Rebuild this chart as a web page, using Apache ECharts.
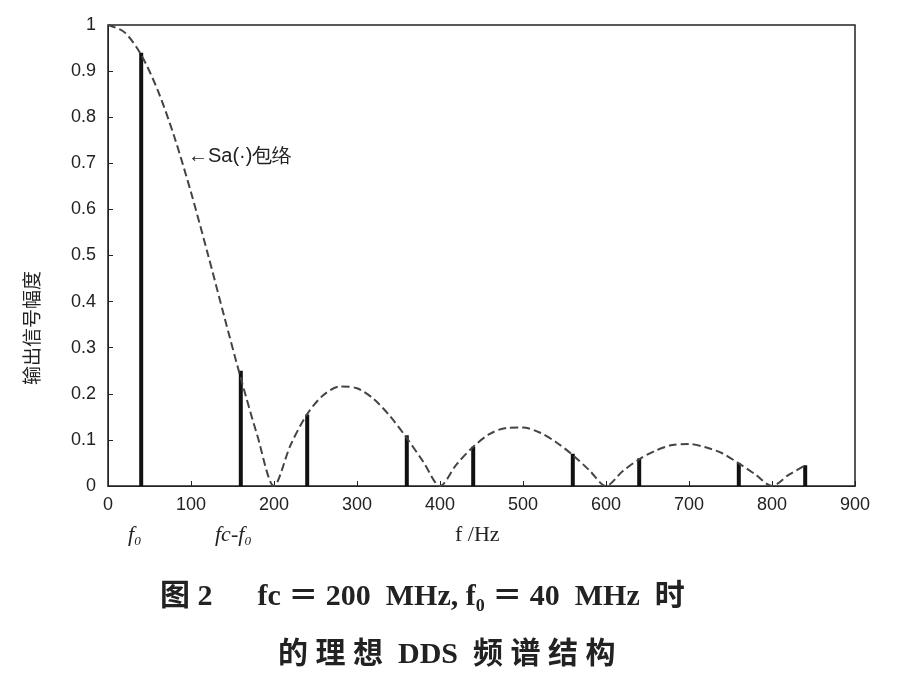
<!DOCTYPE html>
<html><head><meta charset="utf-8">
<script src="https://cdn.jsdelivr.net/npm/echarts@6/dist/echarts.min.js"></script>
<style>html,body{margin:0;background:#fff}#c{width:905px;height:691px}</style>
</head><body><div id="c"></div>
<script>
const envFreq=[0,20,40,60,80,100,120,140,160,180,200,220,240,260,280,300,320,340,360,380,400,420,440,460,480,500,520,540,560,580,600,620,640,660,680,700,720,740,760,780,800,820,840];
const envVal=[1,0.984,0.935,0.858,0.757,0.637,0.505,0.368,0.234,0.109,0,0.089,0.156,0.198,0.216,0.212,0.189,0.151,0.104,0.052,0,0.047,0.085,0.113,0.126,0.127,0.116,0.095,0.067,0.034,0,0.032,0.058,0.077,0.089,0.091,0.084,0.071,0.049,0.025,0,0.024,0.045];
const lineFreq=[40,160,240,360,440,560,640,760,840];
const lineVal=[0.94,0.25,0.155,0.11,0.085,0.07,0.06,0.05,0.045];
const chart=echarts.init(document.getElementById('c'));
const ff='"Liberation Sans",Arial,sans-serif';
const sf='"Liberation Serif","Noto Sans CJK SC",serif';
chart.setOption({
 animation:false,
 grid:{left:108,right:50,top:25,bottom:205,show:true,borderColor:'#222',borderWidth:1.5},
 xAxis:{type:'value',min:0,max:900,interval:100,axisLine:{lineStyle:{color:'#222'}},
   axisTick:{inside:true,length:5,lineStyle:{color:'#222'}},splitLine:{show:false},
   axisLabel:{color:'#222',fontSize:18,fontFamily:ff,margin:10}},
 yAxis:{type:'value',min:0,max:1,interval:0.1,axisLine:{show:true,lineStyle:{color:'#222'}},
   axisTick:{show:true,inside:true,length:5,lineStyle:{color:'#222'}},splitLine:{show:false},
   axisLabel:{color:'#222',fontSize:18,fontFamily:ff,margin:12,formatter:v=>String(Math.round(v*10)/10)}},
 series:[
  {type:'line',data:envFreq.map((f,i)=>[f,envVal[i]]),showSymbol:false,smooth:0.3,
   lineStyle:{color:'#444',width:2,type:'dashed'}},
  {type:'bar',data:lineFreq.map((f,i)=>[f,lineVal[i]]),barWidth:4,itemStyle:{color:'#111'}}
 ],
 graphic:[
  {type:'text',rotation:Math.PI/2,x:22,y:385,style:{text:'输出信号幅度',fontSize:19,fill:'#222',fontFamily:'"Noto Sans CJK SC"'}},
  {type:'text',left:188,top:146,style:{text:'←Sa(·)包络',fontSize:20,fill:'#222',fontFamily:ff}},
  {type:'text',left:128,top:524,style:{text:'f₀',fontSize:22,fill:'#222',fontFamily:'"Liberation Serif"',fontStyle:'italic'}},
  {type:'text',left:215,top:524,style:{text:'fc-f₀',fontSize:22,fill:'#222',fontFamily:'"Liberation Serif"',fontStyle:'italic'}},
  {type:'text',left:455,top:524,style:{text:'f /Hz',fontSize:22,fill:'#222',fontFamily:'"Liberation Serif"'}},
  {type:'text',left:160,top:582,style:{text:'图 2      fc ＝ 200  MHz, f₀ ＝ 40  MHz  时',fontSize:30,fontWeight:'bold',fill:'#222',fontFamily:sf}},
  {type:'text',left:278,top:640,style:{text:'的 理 想  DDS  频 谱 结 构',fontSize:30,fontWeight:'bold',fill:'#222',fontFamily:sf}}
 ]
});
</script></body></html>
